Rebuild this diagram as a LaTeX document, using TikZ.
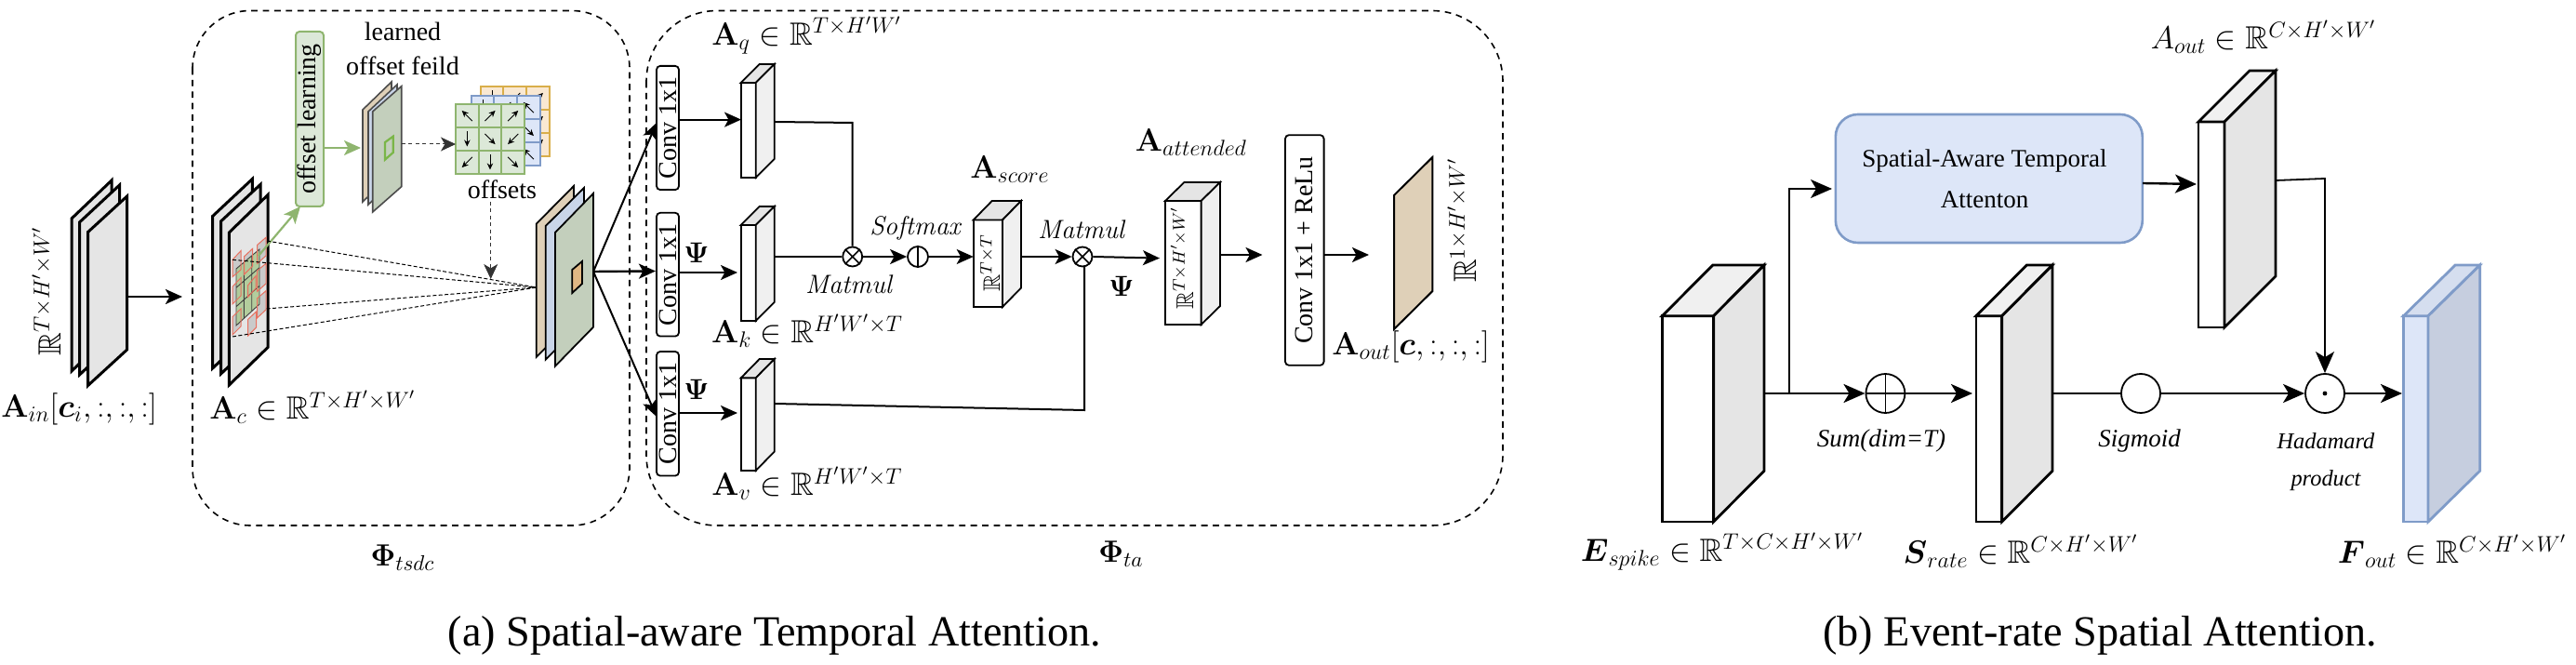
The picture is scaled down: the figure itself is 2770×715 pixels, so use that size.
\RequirePackage{fix-cm}
\documentclass[tikz,border=0pt]{standalone}
\usepackage{amsmath,amssymb}
\usepackage[no-math]{fontspec}
\setmainfont{Liberation Serif}
\usetikzlibrary{arrows.meta,calc}
\definecolor{tanf}{HTML}{DFD0B8}
\definecolor{bluef}{HTML}{C9D5E8}
\definecolor{greenf}{HTML}{C3CFBC}
\definecolor{lgray}{HTML}{E5E5E5}
\definecolor{vlgray}{HTML}{F0F0F0}
\definecolor{gstroke}{HTML}{8FB56F}
\definecolor{gfill}{HTML}{DCE8D8}
\definecolor{bstroke}{HTML}{7F9BC8}
\definecolor{bfill}{HTML}{DDE6F8}
\definecolor{btop}{HTML}{D5DEEF}
\definecolor{bside}{HTML}{C6CEDF}
\definecolor{ostroke}{HTML}{D9AE4A}
\definecolor{ofill}{HTML}{F9E8D2}
\definecolor{redl}{HTML}{E8705F}
\definecolor{smallo}{HTML}{E0B884}
\definecolor{gridg}{HTML}{AECB96}
\definecolor{brightg}{HTML}{7AB648}
\newcommand{\mfa}{\fontsize{17.2}{20}\selectfont}
\newcommand{\mfb}{\fontsize{13}{16}\selectfont}
\newcommand{\tfa}{\fontsize{14}{17}\selectfont}
\newcommand{\mfi}{\fontsize{14.2}{17}\selectfont}
\tikzset{
  x=0.5pt,y=-0.5pt,
  arr/.style={-{Stealth[length=9pt,width=8pt,inset=2.2pt]},line width=1pt,black},
  barr/.style={-{Stealth[length=11.5pt,width=10pt,inset=3pt]},line width=1.4pt,black},
  plain/.style={line width=1pt,black},
  garr/.style={-{Stealth[length=9pt,width=8pt,inset=2.2pt]},line width=1.1pt,gstroke},
  dotarr/.style={-{Stealth[length=8pt,width=7.5pt,inset=2.2pt]},line width=.5pt,black!80,dash pattern=on 2pt off 1.7pt},
  dline/.style={line width=.5pt,black,dash pattern=on 2pt off 1.2pt},
  dbox/.style={draw,line width=.8pt,dash pattern=on 3.4pt off 2.8pt},
  ml/.style={inner sep=0pt,font=\mfa},
  mli/.style={inner sep=0pt,font=\mfi},
  mlp/.style={inner sep=0pt,font=\fontsize{15.5}{18}\selectfont},
  mlb/.style={inner sep=0pt,font=\mfb},
  tl/.style={inner sep=0pt,font=\tfa},
  opc/.style={draw,circle,line width=.9pt,fill=white,inner sep=0pt,minimum size=10.5pt},
  bigc/.style={draw,circle,line width=.9pt,fill=white,inner sep=0pt,minimum size=21pt},
  conv/.style={draw,rounded corners=2pt,line width=.9pt,inner sep=0pt,rotate=90,font=\tfa,fill=white},
}
% sheet: fill, stroke, lw, x1, x2, yTL, yTR, height
\newcommand{\sheetp}[8]{\draw[fill=#1,draw=#2,line width=#3,line join=miter] (#4,#6) -- (#5,#7) -- (#5,#7+#8) -- (#4,#6+#8) -- cycle;}
\def\blkcolors#1/#2/#3\relax{\def\colF{#1}\def\colT{#2}\def\colS{#3}}
\newcommand{\blk}[8]{% x1 x2 x3 ytf ybf ytb colors{front/top/side} stroke
  \def\xa{#1}\def\xb{#2}\def\xc{#3}\def\ya{#4}\def\yb{#5}\def\yc{#6}%
  \blkcolors#7\relax
  \pgfmathsetmacro{\yd}{#5-(#4-#6)}%
  \draw[fill=\colF,draw=#8] (\xa,\ya) rectangle (\xb,\yb);
  \draw[fill=\colT,draw=#8] (\xa,\ya) -- (\xc-\xb+\xa,\yc) -- (\xc,\yc) -- (\xb,\ya) -- cycle;
  \draw[fill=\colS,draw=#8] (\xb,\ya) -- (\xc,\yc) -- (\xc,\yd) -- (\xb,\yb) -- cycle;
}
% offsets grid: x, y, stroke, fill, and list of directions
\newcommand{\ogrid}[5]{%
  \fill[#4] (#1,#2) rectangle (#1+74,#2+75);
  \foreach \rr/\cc/\dx/\dy in {#5}{
    \draw[-{Stealth[length=3.5pt,width=3.2pt]},line width=.45pt] ({#1+12.3+\cc*24.67-(\dx)*8},{#2+12.5+\rr*25-(\dy)*8}) -- ({#1+12.3+\cc*24.67+(\dx)*8},{#2+12.5+\rr*25+(\dy)*8});
  }
  \draw[#3,line width=1.1pt] (#1,#2) rectangle (#1+74,#2+75);
  \foreach \k in {1,2}{
    \draw[#3,line width=1.1pt] ({#1+\k*24.67},#2) -- ({#1+\k*24.67},#2+75);
    \draw[#3,line width=1.1pt] (#1,{#2+\k*25}) -- (#1+74,{#2+\k*25});
  }
}
\newcommand{\redp}[6]{% x1 x2 yTL yTR yBL yBR
  \fill[gray!50,opacity=.7] (#1,#3) -- (#2,#4) -- (#2,#6) -- (#1,#5) -- cycle;}
\newcommand{\redo}[6]{\draw[redl,line width=.5pt] (#1,#3) -- (#2,#4) -- (#2,#6) -- (#1,#5) -- cycle;}
\begin{document}
\begin{tikzpicture}
\useasboundingbox (0,0) rectangle (2770,715);
% dashed containers
\draw[dbox,rounded corners=31pt] (207,11.5) rectangle (677,565);
\draw[dbox,rounded corners=38pt] (695,11.5) rectangle (1616,565);

% ---- A_in stack
\sheetp{lgray}{black}{1.5pt}{77}{120}{235}{194}{164}
\sheetp{lgray}{black}{1.5pt}{85.5}{128.5}{239}{199}{164}
\sheetp{lgray}{black}{1.5pt}{94.6}{136.6}{249.5}{211}{165}
\node[ml,rotate=90] (rin) at (50,313) {$\mathbb{R}^{T\times H'\times W'}$};
\node[ml,anchor=west] (ain) at (1,440) {$\mathbf{A}_{in}[\boldsymbol{c}_i,{:},{:},{:}]$};
\coordinate (ainR) at (137,319);
\coordinate (tsdcL) at (196,319);
\draw[arr,line width=1.3pt] (ainR) -- (tsdcL);

% ---- A_c stack
\sheetp{lgray}{black}{1.5pt}{228.6}{271.4}{232.5}{192.4}{163.5}
\sheetp{lgray}{black}{1.5pt}{237.5}{280}{238}{198.4}{164}
\sheetp{lgray}{black}{1.5pt}{246.4}{288}{250}{209.5}{164}
% red patches
\redp{250}{259}{279.3}{269.7}{297.7}{290}
\redp{262.7}{271.7}{275.7}{267.3}{295}{286}
\redp{276.7}{286}{263.3}{255.3}{283.3}{275}
\redp{250}{259}{308.3}{298.7}{327}{318}
\redp{266.7}{275}{306.7}{296.7}{319.3}{310}
\redp{276.7}{286}{291}{283.3}{313.3}{305}
\redp{250}{259}{340.7}{332}{360}{351}
\redp{266.7}{275.7}{343.3}{335}{361}{352}
\redp{276.7}{286}{320.7}{312.7}{341.7}{333}
% green grid
\fill[gridg,opacity=.9] (254,289) -- (279,268) -- (279,327) -- (254,350) -- cycle;
\draw[line width=.45pt,black!75] (254,289) -- (279,268) -- (279,327) -- (254,350) -- cycle
  (262.3,282) -- (262.3,342.5) (270.7,275) -- (270.7,335)
  (254,309.3) -- (279,287.7) (254,329.7) -- (279,307.3);
\redo{250}{259}{279.3}{269.7}{297.7}{290}
\redo{262.7}{271.7}{275.7}{267.3}{295}{286}
\redo{276.7}{286}{263.3}{255.3}{283.3}{275}
\redo{250}{259}{308.3}{298.7}{327}{318}
\redo{266.7}{275}{306.7}{296.7}{319.3}{310}
\redo{276.7}{286}{291}{283.3}{313.3}{305}
\redo{250}{259}{340.7}{332}{360}{351}
\redo{266.7}{275.7}{343.3}{335}{361}{352}
\redo{276.7}{286}{320.7}{312.7}{341.7}{333}
\node[ml,anchor=west] (ac) at (225,438) {$\mathbf{A}_{c}\in\mathbb{R}^{T\times H'\times W'}$};

% ---- offset learning
\node[conv,draw=gstroke,fill=gfill,line width=1pt,minimum width=94pt,minimum height=15pt] (ol) at (333,128) {offset learning};
\coordinate (acG) at (278,275);
\coordinate (olB) at (323,222);
\draw[garr] (acG) -- (olB);
\coordinate (olR) at (348,159);
\coordinate (fieldL) at (388,159);
\draw[garr] (olR) -- (fieldL);

% ---- learned offset field
\sheetp{tanf}{black!70}{.8pt}{390}{421}{118}{88}{99}
\sheetp{bluef}{black!70}{.8pt}{396}{427}{120}{91}{100}
\sheetp{greenf}{black!70}{.8pt}{400.7}{431.7}{120}{92.7}{108}
\draw[draw=brightg,line width=1.1pt] (414,153) -- (422.7,146.7) -- (422.7,164) -- (414,171.7) -- cycle;
\node[tl] (l1) at (433,34) {learned};
\node[tl] (l2) at (433,71) {offset feild};
\node[tl] (l3) at (540,204) {offsets};

% ---- offsets grids
\ogrid{516.7}{93}{ostroke}{ofill}{0/0/0/1,0/1/-.7/.7,0/2/.7/-.7,1/0/1/0,1/1/1/0,1/2/.7/-.7,2/0/0/1,2/1/0/1,2/2/.7/-.7}
\ogrid{506.7}{103}{bstroke}{bfill}{0/0/0/1,0/1/-.7/.7,0/2/-.7/-.7,1/0/1/0,1/1/1/0,1/2/.7/.7,2/0/0/1,2/1/0/1,2/2/-.7/-.7}
\ogrid{490}{112}{gstroke}{gfill}{0/0/-.7/-.7,0/1/.7/-.7,0/2/.7/-.7,1/0/0/1,1/1/.7/.7,1/2/-.7/.7,2/0/-.7/.7,2/1/0/1,2/2/.7/.7}
\coordinate (fieldR) at (432,155);
\coordinate (gridL) at (490,155);
\draw[dotarr] (fieldR) -- (gridL);
\coordinate (offB) at (527.7,217);
\coordinate (offT) at (527.7,300);
\draw[dotarr] (offB) -- (offT);

% ---- right stack of Phi_tsdc
\sheetp{tanf}{black}{.9pt}{576.7}{617}{240.7}{200}{143.3}
\sheetp{bluef}{black}{.9pt}{586.7}{628}{243}{202}{143.7}
\sheetp{greenf}{black}{.9pt}{597}{638}{250}{208}{143.7}
\draw[fill=smallo,draw=black,line width=.9pt] (615.3,290) -- (626,281) -- (626,305) -- (615.3,315) -- cycle;
\coordinate (conv) at (576.7,309);
\foreach \n/\x/\y in {a/287/259,b/250/279.3,c/286.7/332,d/250/362}{
  \coordinate (d\n) at (\x,\y);
  \draw[dline] (d\n) -- (conv);
}
\coordinate (stackR) at (638,292);

% ---- Conv 1x1 column
\node[conv,minimum width=66.6pt,minimum height=12pt] (cv1) at (718,137.5) {Conv 1x1};
\node[conv,minimum width=66.4pt,minimum height=12pt] (cv2) at (718,295.2) {Conv 1x1};
\node[conv,minimum width=66.8pt,minimum height=12pt] (cv3) at (718,444.8) {Conv 1x1};
\coordinate (t1) at (706,132);
\coordinate (t2) at (705,291.5);
\coordinate (t3) at (706,448);
\draw[arr] (stackR) -- (t1);
\draw[arr,line width=1.2pt] (stackR) -- (t2);
\draw[arr] (stackR) -- (t3);

% ---- Aq Ak Av blocks
\begin{scope}[line width=.9pt]
\blk{796.7}{812.7}{832.7}{89}{191}{69}{white/lgray/vlgray}{black}
\blk{796.7}{812.7}{832.7}{242}{345}{222}{white/lgray/vlgray}{black}
\blk{796.7}{812.7}{832.7}{406.4}{506}{386}{white/lgray/vlgray}{black}
\end{scope}
\coordinate (qL) at (797,128.6);
\coordinate (kL) at (793,293);
\coordinate (vL) at (793,444);
\coordinate (cv1R) at (730,128.6);
\coordinate (cv2R) at (730,293);
\coordinate (cv3R) at (730,444);
\draw[arr] (cv1R) -- (qL);
\draw[arr] (cv2R) -- (kL);
\draw[arr] (cv3R) -- (vL);
\node[ml] (aq) at (867.5,38) {$\mathbf{A}_{q}\in\mathbb{R}^{T\times H'W'}$};
\node[ml] (ak) at (868,356) {$\mathbf{A}_{k}\in\mathbb{R}^{H'W'\times T}$};
\node[ml] (av) at (868,520) {$\mathbf{A}_{v}\in\mathbb{R}^{H'W'\times T}$};
\node[mlp] (psi1) at (749,272) {$\boldsymbol{\Psi}$};
\node[mlp] (psi2) at (749,419) {$\boldsymbol{\Psi}$};

% ---- Matmul chain
\node[opc] (m1) at (916.7,276) {};
\draw[line width=.8pt] (m1.45) -- (m1.225) (m1.135) -- (m1.315);
\node[opc,minimum size=11pt] (sf) at (987,276) {};
\draw[line width=.8pt] (sf.north) -- (sf.south);
\node[opc] (m2) at (1164,276) {};
\draw[line width=.8pt] (m2.45) -- (m2.225) (m2.135) -- (m2.315);
\coordinate (qR) at (833,131);
\coordinate (kR) at (833,276);
\coordinate (vR) at (833,434);
\coordinate (qC) at (916.7,132);
\coordinate (vC) at (1166,441);
\coordinate (vU) at (1166,286);
\draw[plain] (qR) -- (qC) -- (m1.north);
\draw[plain] (kR) -- (m1.west);
\draw[arr] (m1.east) -- (sf.west);
\coordinate (scL) at (1046.7,276);
\coordinate (scR) at (1098,276);
\draw[arr] (sf.east) -- (scL);
\begin{scope}[line width=.9pt]
\blk{1046.7}{1078}{1098}{236.5}{330}{216}{white/lgray/vlgray}{black}
\end{scope}
\draw[arr] (scR) -- (m2.west);
\draw[plain] (vR) -- (vC) -- (vU);
\node[mlb,font=\fontsize{12.7}{15}\selectfont,rotate=90] (rs) at (1065,283) {$\mathbb{R}^{T\times T}$};
\node[mli] (mm1) at (914,306) {$\mathit{Matmul}$};
\node[mli] (sm) at (985.7,245) {$\mathit{Softmax}$};
\node[mli] (mm2) at (1164,246.5) {$\mathit{Matmul}$};
\node[ml] (as) at (1086,182) {$\mathbf{A}_{score}$};

% ---- attended
\begin{scope}[line width=.9pt]
\blk{1253}{1291.6}{1312}{216}{349}{196}{white/lgray/vlgray}{black}
\end{scope}
\coordinate (atL) at (1247,277.6);
\coordinate (atR) at (1312,274);
\draw[arr] (m2.east) -- (atL);
\node[mlp] (psi3) at (1206,308) {$\boldsymbol{\Psi}$};
\node[mlb,rotate=90] (rat) at (1271,277) {$\mathbb{R}^{T\times H'\times W'}$};
\node[ml] (aatt) at (1281,153) {$\mathbf{A}_{attended}$};
\coordinate (atT) at (1357.5,274);
\draw[arr] (atR) -- (atT);
\node[conv,minimum width=123.8pt,minimum height=20.8pt] (cb) at (1402.8,269) {Conv 1x1 + ReLu};
\coordinate (cbR) at (1423.7,274);
\coordinate (shT) at (1472,274);
\draw[arr] (cbR) -- (shT);
\sheetp{tanf}{black}{1pt}{1499}{1540.4}{210}{169}{144}
\node[ml,rotate=90] (r1) at (1572,237) {$\mathbb{R}^{1\times H'\times W'}$};
\node[ml] (aout1) at (1517,373) {$\mathbf{A}_{out}[\boldsymbol{c},{:},{:},{:}]$};
\node[mlp,font=\fontsize{16.5}{19}\selectfont] (ptsdc) at (433,600) {$\mathbf{\Phi}_{tsdc}$};
\node[mlp,font=\fontsize{16.5}{19}\selectfont] (pta) at (1205.5,596) {$\mathbf{\Phi}_{ta}$};

% ================= (b)
\begin{scope}[line width=1.4pt]
\blk{1787.4}{1842.6}{1897}{339.7}{561}{285}{white/vlgray/lgray}{black}
\blk{2125}{2152.7}{2207}{339.7}{561}{285}{white/vlgray/lgray}{black}
\blk{2364}{2392}{2447}{131}{352}{76}{white/vlgray/lgray}{black}
\blk{2584.5}{2611}{2666.7}{339.7}{561}{285}{bfill/btop/bside}{bstroke}
\end{scope}
\node[draw=bstroke,fill=bfill,line width=1.3pt,rounded corners=12pt,minimum width=165pt,minimum height=69pt,inner sep=0pt] (sat) at (2138.8,192) {};
\node[tl,font=\fontsize{13.5}{16}\selectfont] (sat1) at (2134,173) {Spatial-Aware Temporal};
\node[tl,font=\fontsize{13.5}{16}\selectfont] (sat2) at (2134,215) {Attenton};
\node[bigc] (plus) at (2027.4,423) {};
\draw[line width=.9pt] (plus.north) -- (plus.south) (plus.west) -- (plus.east);
\node[bigc] (sig) at (2302,423) {};
\node[bigc] (had) at (2500,423) {};
\fill (had) circle (1.2pt);
\coordinate (eR) at (1897,423);
\coordinate (br) at (1924,423);
\coordinate (satL) at (1970,203);
\draw[barr] (eR) -- (plus.west);
\draw[barr,line width=.9pt] (br) -- (br |- satL) -- (satL);
\coordinate (sL) at (2121,423);
\coordinate (sR) at (2207,423);
\draw[barr] (plus.east) -- (sL);
\draw[plain,line width=1.4pt] (sR) -- (sig.west);
\draw[barr] (sig.east) -- (had.west);
\coordinate (fL) at (2583,423);
\draw[barr] (had.east) -- (fL);
\coordinate (aoR) at (2447,194);
\coordinate (aoC) at (2500,192);
\coordinate (satR) at (2304,197);
\coordinate (aoL) at (2362,198);
\draw[barr,line width=1.2pt] (satR) -- (aoL);
\draw[barr,line width=.9pt] (aoR) -- (aoC) -- (had.north);
\node[tl,font=\itshape\fontsize{13.5}{16}\selectfont] (lsum) at (2023,474) {Sum(dim=T)};
\node[tl,font=\itshape\fontsize{13.5}{16}\selectfont] (lsig) at (2300.7,474) {Sigmoid};
\node[tl,font=\itshape\fontsize{12.2}{15}\selectfont] (lhad) at (2501,474) {Hadamard};
\node[tl,font=\itshape\fontsize{12.2}{15}\selectfont] (lpro) at (2501,516.6) {product};
\node[ml] (espike) at (1852,593) {$\boldsymbol{E}_{spike}\in\mathbb{R}^{T\times C\times H'\times W'}$};
\node[ml] (srate) at (2173,593) {$\boldsymbol{S}_{rate}\in\mathbb{R}^{C\times H'\times W'}$};
\node[ml] (fout) at (2637,593) {$\boldsymbol{F}_{out}\in\mathbb{R}^{C\times H'\times W'}$};
\node[ml] (aout2) at (2434,40) {$A_{out}\in\mathbb{R}^{C\times H'\times W'}$};
% captions
\node[inner sep=0pt,font=\fontsize{23.1}{26}\selectfont] (capa) at (833,683) {(a) Spatial-aware Temporal Attention.};
\node[inner sep=0pt,font=\fontsize{23.1}{26}\selectfont] (capb) at (2258,683) {(b) Event-rate Spatial Attention.};
\end{tikzpicture}
\end{document}
